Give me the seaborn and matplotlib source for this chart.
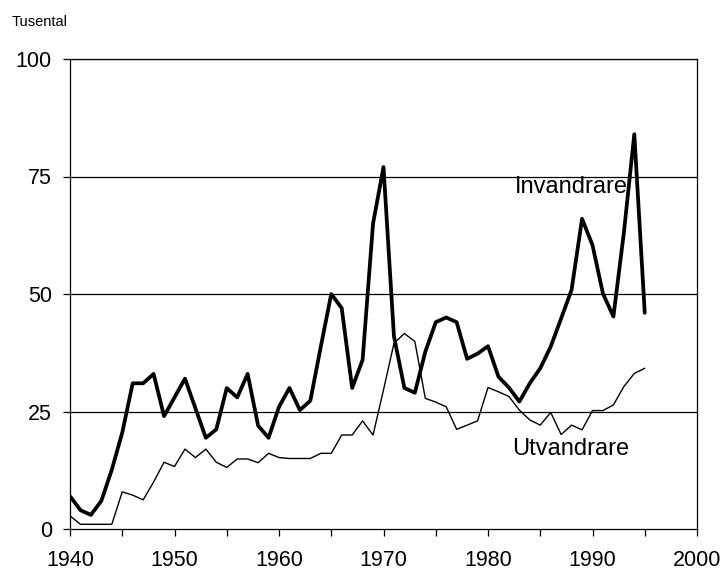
import matplotlib
matplotlib.use("Agg")
import matplotlib.pyplot as plt
import seaborn as sns
import pandas as pd
from matplotlib.ticker import MultipleLocator

years = list(range(1940, 1996))
invandrare = [7, 4, 3, 6, 12.6, 20.5, 31, 31, 33, 24,
              28, 32, 25.7, 19.4, 21.2, 30, 28, 33, 22, 19.4,
              26, 30, 25.3, 27.3, 38.8, 50, 47, 30, 36, 65,
              77, 41, 30, 29, 37.7, 44, 45, 44, 36.2, 37.3,
              38.9, 32.4, 30.1, 27.1, 31, 34.2, 38.8, 44.8, 50.9, 66,
              60.4, 50.1, 45.2, 63, 84, 46]
utvandrare = [2.8, 1, 1, 1, 1, 7.9, 7.2, 6.2, 10, 14.2,
              13.3, 17, 15.2, 17, 14.2, 13.1, 14.9, 14.9, 14.1, 16.1,
              15.2, 15, 15, 15, 16.1, 16.1, 20, 20, 23, 20,
              29.6, 39.5, 41.6, 39.9, 27.8, 27, 26, 21.2, 22.1, 23,
              30.1, 29.2, 28.2, 25.3, 23.2, 22.1, 24.8, 20.1, 22.1, 21.1,
              25.2, 25.2, 26.4, 30.3, 33.1, 34.2]
y_ticks = [0, 25, 50, 75, 100]
x_ticks = [1940, 1950, 1960, 1970, 1980, 1990, 2000]

sns.set_theme(style="white")
plt.rcParams['font.family'] = ['Liberation Sans', 'DejaVu Sans']

df = pd.DataFrame({"year": years, "inv": invandrare, "utv": utvandrare})

fig = plt.figure(figsize=(7.25, 5.74), dpi=100)
ax = fig.add_axes([70/725, 1-529/574, (697-70)/725, (529-59)/574])

for y in [25, 50, 75, 100]:
    ax.axhline(y, color="black", lw=0.9, zorder=1)

sns.lineplot(data=df, x="year", y="utv", ax=ax, color="black", lw=1.0, zorder=3)
sns.lineplot(data=df, x="year", y="inv", ax=ax, color="black", lw=2.7, zorder=4)

ax.set_xlim(1940, 2000)
ax.set_ylim(0, 100)
ax.set_xticks(x_ticks)
ax.xaxis.set_minor_locator(MultipleLocator(5))
ax.set_yticks(y_ticks)
ax.set_xlabel("")
ax.set_ylabel("")
ax.tick_params(axis="both", which="both", direction="out", length=5, width=0.9,
               color="black", labelsize=15.5, labelcolor="black")
ax.tick_params(axis="x", pad=10)
ax.tick_params(axis="y", pad=8)
ax.tick_params(axis="both", which="both", bottom=True, left=True)
for s in ax.spines.values():
    s.set_color("black")
    s.set_linewidth(0.9)
    s.set_visible(True)

ax.text(1982.6, 72.8, "Invandrare", fontsize=17, color="black", ha="left", va="center")
ax.text(1982.3, 17.0, "Utvandrare", fontsize=17, color="black", ha="left", va="center")
fig.text(12/725, 1-22/574, "Tusental", fontsize=10.5, color="black", ha="left", va="center")

fig.savefig("out.png", dpi=100, facecolor="white")
